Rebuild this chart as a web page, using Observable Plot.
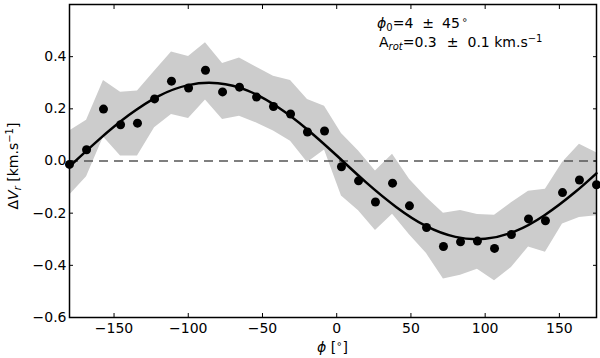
<!DOCTYPE html>
<html><head><meta charset="utf-8">
<script src="https://cdn.jsdelivr.net/npm/d3@7"></script>
<script src="https://cdn.jsdelivr.net/npm/@observablehq/plot@0.6"></script>
<style>body{margin:0;background:#fff;} svg{font-family:"DejaVu Sans";}</style>
</head><body><div id="chart"></div>
<script>
const phi = [-180, -168.5, -157.1, -145.6, -134.2, -122.7, -111.3, -99.8, -88.4, -76.9, -65.5, -54.0, -42.6, -31.1, -19.7, -8.2, 3.2, 14.7, 26.1, 37.6, 49.0, 60.5, 71.9, 83.4, 94.8, 106.3, 117.7, 129.2, 140.6, 152.1, 163.5, 175.0];
const dv = [-0.013, 0.043, 0.199, 0.139, 0.145, 0.238, 0.306, 0.280, 0.348, 0.265, 0.283, 0.245, 0.209, 0.180, 0.111, 0.115, -0.022, -0.076, -0.157, -0.085, -0.172, -0.255, -0.328, -0.310, -0.307, -0.335, -0.282, -0.222, -0.229, -0.121, -0.073, -0.091];
const dvUpper = [0.115, 0.156, 0.309, 0.264, 0.268, 0.344, 0.418, 0.401, 0.453, 0.374, 0.395, 0.359, 0.325, 0.309, 0.236, 0.210, 0.105, 0.038, -0.038, 0.026, -0.070, -0.140, -0.200, -0.190, -0.205, -0.208, -0.160, -0.116, -0.108, -0.006, 0.064, 0.032];
const dvLower = [-0.131, -0.060, 0.092, 0.019, 0.019, 0.127, 0.178, 0.163, 0.234, 0.159, 0.172, 0.146, 0.115, 0.076, -0.006, 0.042, -0.134, -0.191, -0.266, -0.204, -0.283, -0.355, -0.452, -0.438, -0.415, -0.459, -0.408, -0.330, -0.350, -0.242, -0.217, -0.210];
const fitPhi = [-180, -160, -140, -120, -100, -80, -60, -40, -20, 0, 20, 40, 60, 80, 100, 120, 140, 160, 175];
const fitDv = [-0.021, 0.083, 0.176, 0.249, 0.291, 0.298, 0.270, 0.208, 0.122, 0.021, -0.083, -0.176, -0.249, -0.291, -0.298, -0.270, -0.208, -0.122, -0.047];
const xTicks = [-150, -100, -50, 0, 50, 100, 150];
const yTicks = [-0.6, -0.4, -0.2, 0, 0.2, 0.4];

const obs = phi.map((p, i) => ({phi: p, dv: dv[i], lo: dvLower[i], hi: dvUpper[i]}));
const fit = fitPhi.map((p, i) => ({phi: p, dv: fitDv[i]}));

const chart = Plot.plot({
  width: 600, height: 358,
  marginLeft: 69, marginRight: 4, marginTop: 4, marginBottom: 41,
  style: {fontFamily: "DejaVu Sans", fontSize: "14px", background: "white", color: "black"},
  x: {domain: [-180, 175]},
  y: {domain: [-0.6, 0.6]},
  marks: [
    Plot.areaY(obs, {x: "phi", y1: "lo", y2: "hi", fill: "#cccccc"}),
    Plot.ruleY([0], {stroke: "#555", strokeWidth: 1.5, strokeDasharray: "9,6"}),
    Plot.line(fit, {x: "phi", y: "dv", stroke: "black", strokeWidth: 2.5, curve: "natural"}),
    Plot.dot(obs, {x: "phi", y: "dv", r: 4.5, fill: "black"}),
    Plot.frame({stroke: "black", strokeWidth: 1.5}),
    Plot.axisX(xTicks, {anchor: "bottom", tickSize: -4, tickPadding: 10, label: null, tickFormat: d3.format("d"), fontSize: 14}),
    Plot.axisX(xTicks, {anchor: "top", tickSize: -4, label: null, tickFormat: () => ""}),
    Plot.axisY(yTicks, {anchor: "left", tickSize: -4, tickPadding: 7, label: null, tickFormat: d3.format(".1f"), fontSize: 14}),
    Plot.axisY(yTicks, {anchor: "right", tickSize: -4, label: null, tickFormat: () => ""})
  ]
});
document.getElementById("chart").appendChild(chart);

const svg = d3.select(chart);
const sx = chart.scale("x"), sy = chart.scale("y");

function addText(g, parts) {
  parts.forEach(p => {
    const t = g.append("tspan").text(p.t).style("fill", "black");
    if (p.i) t.attr("font-style", "italic");
    if (p.s) t.attr("font-size", p.s);
    if (p.dy) t.attr("dy", p.dy);
    if (p.dx) t.attr("dx", p.dx);
  });
}

// annotation
const ax = sx.apply(27.5);
const t1 = svg.append("text").attr("x", ax).attr("y", sy.apply(0.507)).attr("text-anchor", "start").attr("font-size", 14);
addText(t1, [{t: "ϕ", i: true}, {t: "0", s: 10, dy: 3}, {t: "=4", dy: -3}, {t: "±", dx: 9}, {t: "45", dx: 8}, {t: "∘", s: 10, dy: -5, dx: 2}]);
const t2 = svg.append("text").attr("x", ax + 2).attr("y", sy.apply(0.436)).attr("text-anchor", "start").attr("font-size", 14);
addText(t2, [{t: "A"}, {t: "rot", i: true, s: 10, dy: 3}, {t: "=0.3", dy: -3}, {t: "±", dx: 10}, {t: "0.1 km.s", dx: 9}, {t: "−1", s: 10, dy: -5}]);

// x label
const xc = (69 + 596) / 2;
const xl = svg.append("text").attr("x", xc).attr("y", 352).attr("text-anchor", "middle").attr("font-size", 14);
addText(xl, [{t: "ϕ", i: true}, {t: " ["}, {t: "∘", s: 10, dy: -5}, {t: "]", dy: 5}]);

// y label
const yl = svg.append("text").attr("transform", "translate(18,166) rotate(-90)").attr("text-anchor", "middle").attr("font-size", 14);
addText(yl, [{t: "Δ"}, {t: "V", i: true}, {t: "r", i: true, s: 10, dy: 3}, {t: " [km.s", dy: -3}, {t: "−1", s: 10, dy: -5}, {t: "]", dy: 5}]);
</script>
</body></html>
